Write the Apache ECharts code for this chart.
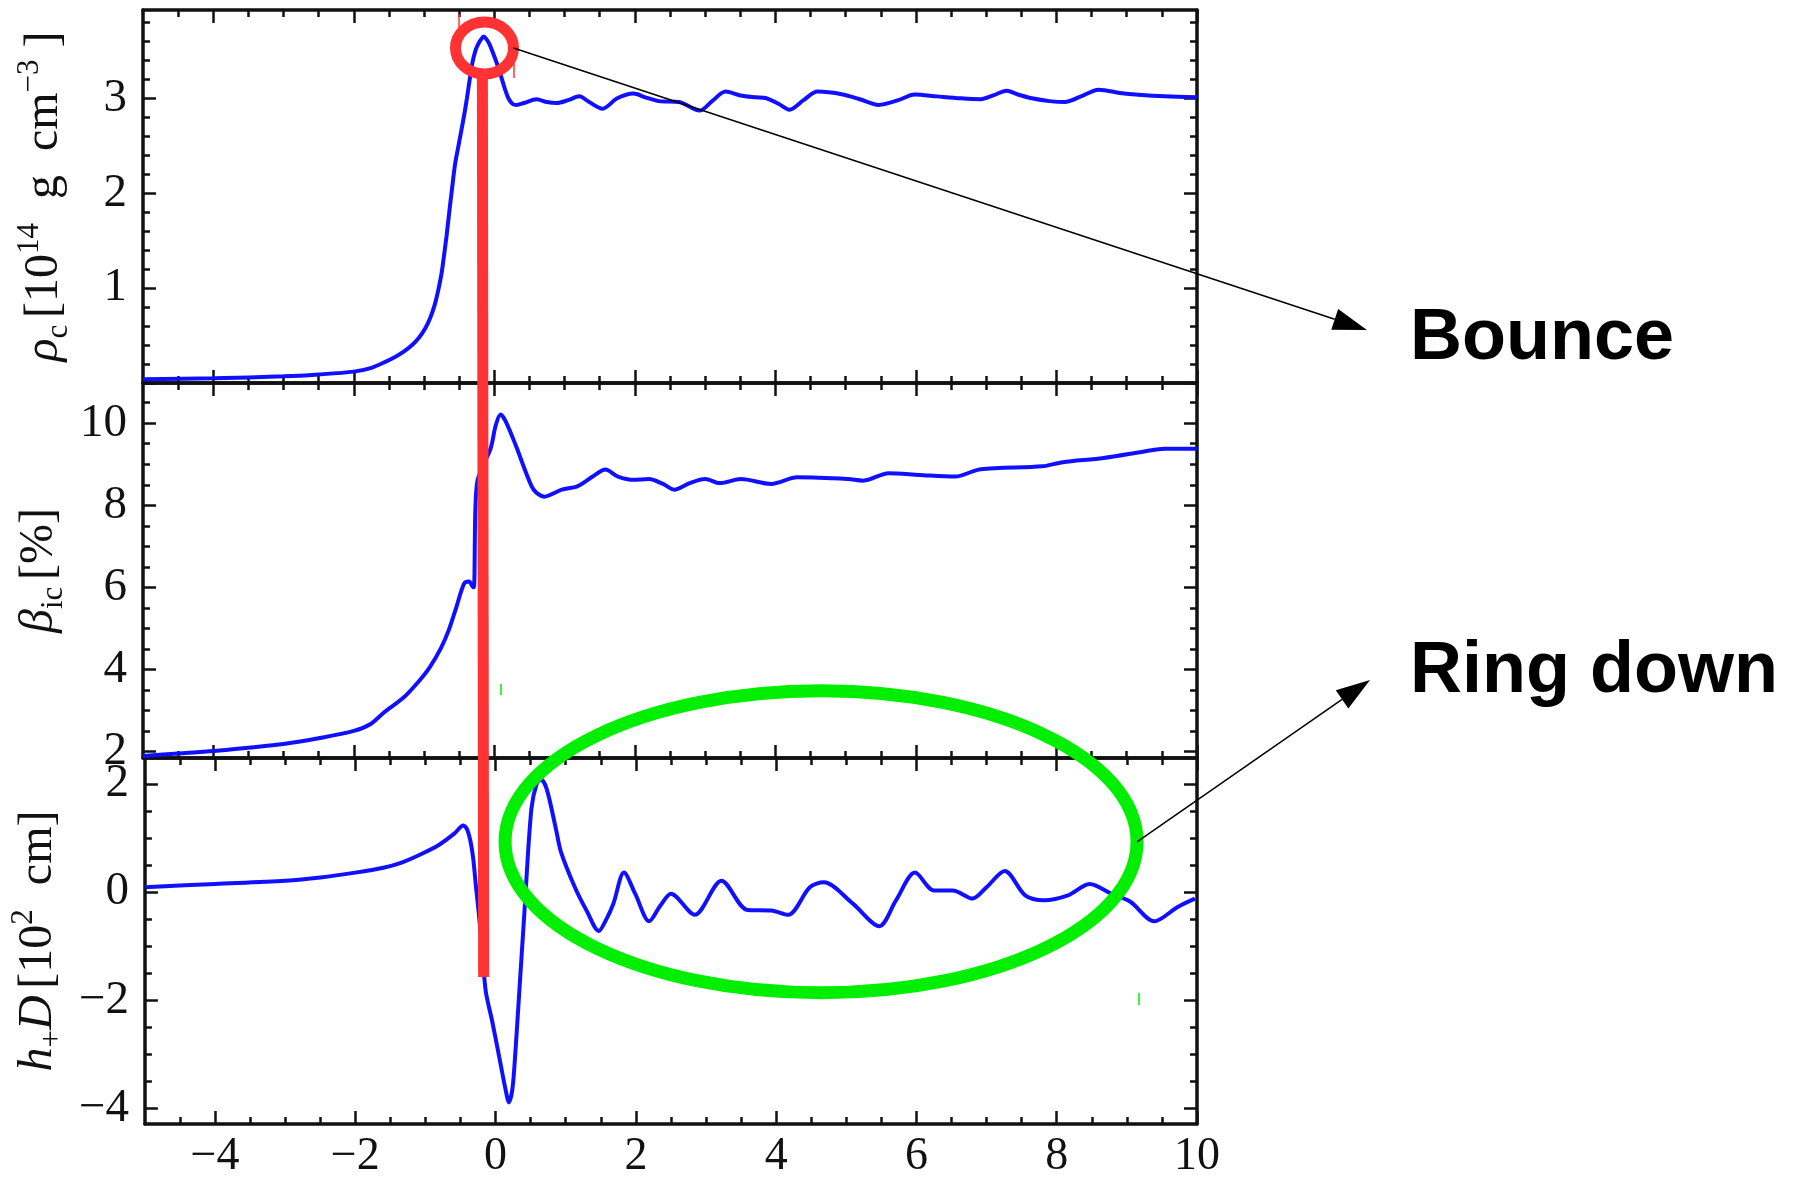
<!DOCTYPE html>
<html>
<head>
<meta charset="utf-8">
<script src="https://cdn.jsdelivr.net/npm/echarts@6/dist/echarts.min.js"></script>
<style>
html, body { margin: 0; padding: 0; background: #fff; }
#main { width: 1799px; height: 1180px; }
</style>
</head>
<body>
<div id="main"></div>
<script>
// time after bounce [ms]  /  central density [10^14 g cm^-3]
var rhoTime = [-5.0,-4.0,-3.0,-2.5,-2.0,-1.75,-1.56,-1.4,-1.29,-1.17,-1.07,-0.98,-0.91,-0.85,-0.80,-0.75,-0.72,-0.68,-0.64,-0.60,-0.56,-0.51,-0.47,-0.43,-0.39,-0.35,-0.31,-0.27,-0.23,-0.19,-0.15,-0.11,-0.07,-0.02,0.04,0.10,0.15,0.20,0.26,0.32,0.42,0.60,0.75,0.89,1.05,1.21,1.35,1.54,1.75,1.98,2.15,2.34,2.63,2.92,3.10,3.29,3.50,3.72,3.87,4.05,4.20,4.40,4.60,4.96,5.20,5.47,5.75,5.98,6.30,6.63,6.92,7.10,7.29,7.45,7.65,7.90,8.12,8.35,8.60,8.96,9.54,10.0];
var rhoVal = [0.04,0.05,0.07,0.09,0.12,0.16,0.22,0.28,0.33,0.40,0.48,0.58,0.69,0.82,0.97,1.16,1.32,1.55,1.81,2.06,2.30,2.50,2.66,2.82,3.00,3.20,3.38,3.50,3.57,3.62,3.65,3.62,3.57,3.48,3.36,3.22,3.10,3.00,2.94,2.93,2.95,2.99,2.96,2.95,2.98,3.02,2.96,2.89,3.00,3.05,3.01,2.97,2.96,2.87,2.97,3.07,3.03,3.01,3.00,2.94,2.88,2.98,3.07,3.04,2.99,2.93,2.98,3.04,3.02,3.00,2.99,3.03,3.08,3.04,3.00,2.97,2.96,3.02,3.09,3.05,3.02,3.01];

// beta_ic [%]
var betaTime = [-5.0,-4.5,-4.0,-3.5,-3.0,-2.5,-2.0,-1.76,-1.57,-1.3,-1.08,-0.92,-0.76,-0.65,-0.54,-0.43,-0.36,-0.31,-0.29,-0.27,-0.24,-0.15,-0.05,0.02,0.09,0.16,0.31,0.45,0.56,0.71,0.96,1.18,1.40,1.58,1.76,1.98,2.20,2.40,2.56,2.78,3.00,3.21,3.51,3.94,4.31,5.03,5.25,5.61,6.05,6.56,6.92,7.80,8.09,8.67,9.25,9.54,10.0];
var betaVal = [1.89,1.95,2.01,2.09,2.18,2.32,2.50,2.67,2.95,3.30,3.70,4.05,4.52,4.95,5.52,6.09,6.14,6.02,6.00,7.90,8.60,9.00,9.40,9.95,10.21,10.05,9.44,8.80,8.38,8.21,8.38,8.46,8.70,8.87,8.70,8.62,8.64,8.52,8.38,8.54,8.64,8.54,8.64,8.52,8.68,8.64,8.60,8.78,8.74,8.70,8.88,8.95,9.05,9.15,9.31,9.38,9.38];

// h+ D [10^2 cm]
var hTime = [-5.0,-4.0,-3.0,-2.5,-2.0,-1.6,-1.35,-1.08,-0.81,-0.59,-0.46,-0.41,-0.36,-0.32,-0.28,-0.24,-0.19,-0.14,-0.05,0.05,0.14,0.19,0.24,0.28,0.32,0.41,0.51,0.59,0.65,0.73,0.86,0.93,1.13,1.30,1.47,1.58,1.68,1.83,1.99,2.19,2.35,2.50,2.84,3.22,3.59,3.93,4.17,4.48,4.68,5.09,5.47,5.71,5.98,6.25,6.52,6.80,7.00,7.26,7.55,7.82,8.16,8.47,8.78,9.05,9.39,9.73,9.97];
var hVal = [0.09,0.15,0.21,0.27,0.36,0.45,0.54,0.69,0.87,1.08,1.23,1.17,0.95,0.63,0.10,-0.39,-1.10,-1.84,-2.38,-3.04,-3.64,-3.89,-3.64,-3.00,-2.20,-0.39,1.54,2.02,2.08,1.90,1.17,0.75,0.09,-0.35,-0.72,-0.50,-0.21,0.36,-0.03,-0.54,-0.25,-0.03,-0.42,0.21,-0.33,-0.34,-0.42,0.09,0.18,-0.21,-0.63,-0.15,0.36,0.03,0.03,-0.12,0.09,0.39,-0.06,-0.15,-0.06,0.15,-0.03,-0.18,-0.54,-0.27,-0.12];

// tick labels
var xLabels = [-4, -2, 0, 2, 4, 6, 8, 10];
var rhoLabels = [1, 2, 3];
var betaLabels = [2, 4, 6, 8, 10];
var hLabels = [-4, -2, 0, 2];

// annotation anchors (data space)
var bounceX = -0.17;
var bounceCircle = [-0.14, 3.53];
var ringCenter = [4.64, 0.93];

var serif = 'Liberation Serif';
var ink = '#111';

function minorTicks(lo, hi, step, majors) {
  var out = [];
  for (var k = Math.ceil(lo / step - 1e-9); k * step <= hi + 1e-9; k++) {
    var v = +(k * step).toFixed(4);
    if (majors.indexOf(v) < 0 && v > lo + 1e-6 && v < hi - 1e-6) out.push(v);
  }
  return out;
}
function minus(v) { return String(v).replace('-', '\u2212'); }

var xMajor = [-4, -2, 0, 2, 4, 6, 8, 10];
var xMinor = minorTicks(-5, 10, 0.5, xMajor);

var panels = [
  { min: 0, max: 3.93, majors: [0, 1, 2, 3], labels: rhoLabels, step: 0.2,
    name: '{i|\u03c1}{sub|c}  {n|[10}{sup|14}{n|  g  cm}{sup|\u22123}{n| ]}' },
  { min: 1.84, max: 10.98, majors: [2, 4, 6, 8, 10], labels: betaLabels, step: 0.5,
    name: '{i|\u03b2}{sub|ic}  {n|[%]}' },
  { min: -4.29, max: 2.48, majors: [-4, -2, 0, 2], labels: hLabels, step: 0.5,
    name: '{i|h}{sub|+}{i|D}  {n|[10}{sup|2}{n|  cm]}' }
];
var gridTop = [10, 383, 758];
var gridHeight = [373, 375, 375];

var nameRich = {
  i: { fontFamily: serif, fontStyle: 'italic', fontSize: 48, lineHeight: 60, color: ink },
  n: { fontFamily: serif, fontSize: 48, lineHeight: 60, color: ink },
  sup: { fontFamily: serif, fontSize: 31, lineHeight: 30, verticalAlign: 'top', color: ink },
  sub: { fontFamily: serif, fontSize: 31, lineHeight: 30, verticalAlign: 'bottom', color: ink }
};

function makeAxis(dim, g, pos, min, max, ticks, len, lineOn, labels) {
  var a = {
    type: 'value', gridIndex: g, position: pos, min: min, max: max,
    axisLine: { show: lineOn, onZero: false, lineStyle: { color: ink, width: 3.5 } },
    axisTick: { show: true, inside: true, length: len, customValues: ticks,
                lineStyle: { color: ink, width: 2.5 } },
    splitLine: { show: false },
    axisLabel: { show: false }
  };
  if (labels) {
    a.axisLabel = {
      show: true, customValues: labels, formatter: minus,
      fontFamily: serif, fontSize: dim === 'x' ? 46 : 47, color: ink,
      margin: dim === 'x' ? 10 : 16
    };
  }
  return a;
}

var grids = [], xAxes = [], yAxes = [], series = [];
var seriesData = [[rhoTime, rhoVal], [betaTime, betaVal], [hTime, hVal]];

panels.forEach(function (p, g) {
  grids.push({ left: 143, width: 1054, top: gridTop[g], height: gridHeight[g] });
  var yMinor = minorTicks(p.min, p.max, p.step, p.majors);
  // x: bottom major / bottom minor / top major / top minor
  xAxes.push(makeAxis('x', g, 'bottom', -5, 10, xMajor, 13, true, g === 2 ? xLabels : null));
  xAxes.push(makeAxis('x', g, 'bottom', -5, 10, xMinor, 7, false, null));
  xAxes.push(makeAxis('x', g, 'top', -5, 10, xMajor, 13, true, null));
  xAxes.push(makeAxis('x', g, 'top', -5, 10, xMinor, 7, false, null));
  var yl = makeAxis('y', g, 'left', p.min, p.max, p.majors, 13, true, p.labels);
  yl.name = p.name;
  yl.nameLocation = 'middle';
  yl.nameRotate = 90;
  yl.nameGap = 69;
  yl.nameTextStyle = { rich: nameRich };
  yAxes.push(yl);
  yAxes.push(makeAxis('y', g, 'left', p.min, p.max, yMinor, 7, false, null));
  yAxes.push(makeAxis('y', g, 'right', p.min, p.max, p.majors, 13, true, null));
  yAxes.push(makeAxis('y', g, 'right', p.min, p.max, yMinor, 7, false, null));

  var t = seriesData[g][0], v = seriesData[g][1];
  series.push({
    type: 'line', xAxisIndex: g * 4, yAxisIndex: g * 4,
    data: t.map(function (x, i) { return [x, v[i]]; }),
    showSymbol: false, smooth: 0.3,
    lineStyle: { color: '#1010ff', width: 4 }, z: 3
  });
});

var chart = echarts.init(document.getElementById('main'));
chart.setOption({
  animation: false,
  backgroundColor: '#fff',
  grid: grids,
  xAxis: xAxes,
  yAxis: yAxes,
  series: series
});

function px(s, x, y) { return chart.convertToPixel({ seriesIndex: s }, [x, y]); }

function arrow(x0, y0, x1, y1) {
  var dx = x1 - x0, dy = y1 - y0, L = Math.sqrt(dx * dx + dy * dy);
  var ux = dx / L, uy = dy / L;
  var bx = x1 - ux * 34, by = y1 - uy * 34;
  return [
    { type: 'line', z: 100, shape: { x1: x0, y1: y0, x2: bx, y2: by },
      style: { stroke: '#000', lineWidth: 1.5 } },
    { type: 'polygon', z: 100,
      shape: { points: [[x1, y1], [bx - uy * 11, by + ux * 11], [bx + uy * 11, by - ux * 11]] },
      style: { fill: '#000' } }
  ];
}

var lineTop = px(0, bounceX, 3.23);
var lineBot = px(2, bounceX, -1.57);
var circ = px(0, bounceCircle[0], bounceCircle[1]);
var ring = px(2, ringCenter[0], ringCenter[1]);

var gfx = [
  { type: 'line', z: 90, shape: { x1: lineTop[0], y1: lineTop[1], x2: lineBot[0], y2: lineBot[1] },
    style: { stroke: '#ff3333', lineWidth: 11 } },
  { type: 'ellipse', z: 90, shape: { cx: circ[0], cy: circ[1], rx: 29, ry: 26 },
    style: { fill: 'none', stroke: '#ff3333', lineWidth: 11 } },
  { type: 'ellipse', z: 90, shape: { cx: ring[0], cy: ring[1], rx: 316, ry: 151 },
    style: { fill: 'none', stroke: '#00ee00', lineWidth: 13 } },
  // stray marks of the original figure
  { type: 'line', z: 90, shape: { x1: 459, y1: 14, x2: 459, y2: 32 }, style: { stroke: '#ff3333', lineWidth: 1.5 } },
  { type: 'line', z: 90, shape: { x1: 514, y1: 63, x2: 514, y2: 78 }, style: { stroke: '#ff3333', lineWidth: 1.5 } },
  { type: 'line', z: 90, shape: { x1: 501, y1: 684, x2: 501, y2: 695 }, style: { stroke: '#00ee00', lineWidth: 1.5 } },
  { type: 'line', z: 90, shape: { x1: 1139, y1: 993, x2: 1139, y2: 1005 }, style: { stroke: '#00ee00', lineWidth: 1.5 } },
  { type: 'text', z: 100, style: { x: 1410, y: 339, text: 'Bounce', fill: '#000',
      font: 'bold 72px "Liberation Sans"', verticalAlign: 'middle', align: 'left' } },
  { type: 'text', z: 100, style: { x: 1410, y: 672, text: 'Ring down', fill: '#000',
      font: 'bold 72px "Liberation Sans"', verticalAlign: 'middle', align: 'left' } }
];
gfx = gfx.concat(arrow(circ[0] + 29, circ[1], 1367, 330));
gfx = gfx.concat(arrow(ring[0] + 316, ring[1], 1370, 680));

chart.setOption({ graphic: gfx });
</script>
</body>
</html>
